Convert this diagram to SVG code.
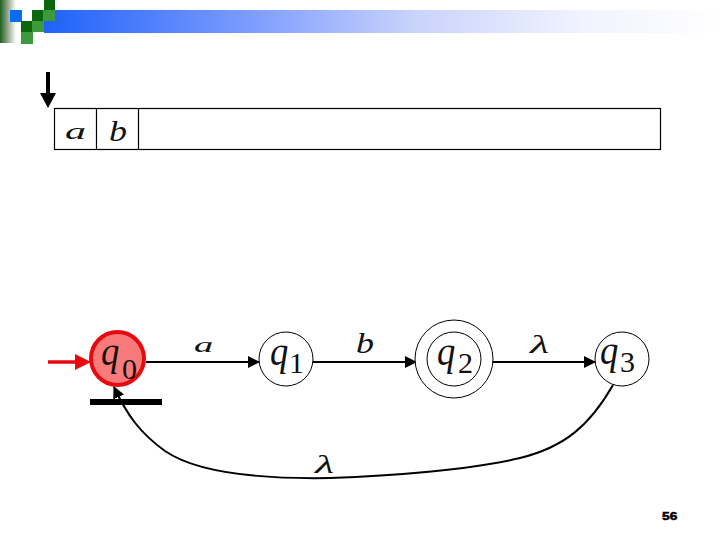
<svg xmlns="http://www.w3.org/2000/svg" width="720" height="540" viewBox="0 0 720 540">
<style>
.state{fill:#fff;stroke:#000;stroke-width:1}
.edge{fill:none;stroke:#000;stroke-width:2}
.q{font-family:"Liberation Serif",serif;font-style:italic;font-size:43px;fill:#111}
.sub{font-family:"Liberation Serif",serif;font-size:30px;fill:#111}
.lbl{font-family:"Liberation Serif",serif;font-style:italic;fill:#111}
.cell{fill:#fff;stroke:#000;stroke-width:1.2}
</style>
<defs>
<linearGradient id="bar" x1="0" x2="1" y1="0" y2="0"><stop offset="0" stop-color="#1e62f8"/><stop offset="0.3" stop-color="#7c9bff"/><stop offset="0.55" stop-color="#c9d3fb"/><stop offset="0.8" stop-color="#f1f3fe"/><stop offset="1" stop-color="#fff"/></linearGradient>
<linearGradient id="side" x1="0" x2="1" y1="0" y2="0"><stop offset="0" stop-color="#1f5f1f"/><stop offset="0.4" stop-color="#7f9a7a"/><stop offset="1" stop-color="#fff"/></linearGradient>
<marker id="ah" markerUnits="userSpaceOnUse" markerWidth="12" markerHeight="12" refX="11" refY="6" orient="auto"><path d="M0 0L12 6L0 12z" fill="#000"/></marker>
</defs>
<g id="header">
<rect x="44" y="10" width="676" height="23" fill="url(#bar)"/>
<rect x="0" y="0" width="16" height="43" fill="url(#side)"/>
<rect x="10" y="10" width="12" height="12" fill="#0a6cf0"/>
<rect x="44" y="0" width="11" height="10" fill="#0b670b"/>
<rect x="32" y="10" width="11" height="11" fill="#0b670b"/>
<rect x="43" y="10" width="12" height="11" fill="#3c9a3c"/>
<rect x="21" y="21" width="11" height="11" fill="#0b670b"/>
<rect x="32" y="21" width="12" height="11" fill="#3c9a3c"/>
<rect x="21" y="32" width="12" height="12" fill="#3c9a3c"/>
</g>
<g id="tape">
<rect class="cell" x="54.500" y="108.500" width="606" height="41"/>
<path d="M96.500 108.500V149.500M138.500 108.500V149.500" stroke="#000" stroke-width="1.200" fill="none"/>
<text class="lbl" font-size="24" transform="translate(65 139) scale(1.750 1)">a</text>
<text class="lbl" font-size="30" transform="translate(109 141) scale(1.200 1)">b</text>
</g>
<g id="head">
<rect x="46" y="72" width="4" height="24" fill="#000"/>
<path d="M40 93H56L48 108z" fill="#000"/>
</g>
<g id="connectors">
<path d="M146 362H259" class="edge" marker-end="url(#ah)"/>
<path d="M313 362H416" class="edge" marker-end="url(#ah)"/>
<path d="M493 362H595" class="edge" marker-end="url(#ah)"/>
<path d="M613 385C590 425 565 447 520 458C470 470 390 476 330 478C270 479 200 475 165 451C140 433 127 415 114 387" class="edge" marker-end="url(#ah)"/>
<path d="M48 362H80" fill="none" stroke="#e8090f" stroke-width="3.500"/>
<path d="M75 354L91 362L75 370z" fill="#e8090f"/>
<rect x="90" y="399" width="72" height="6" fill="#000"/>
</g>
<g id="q0"><circle cx="117.500" cy="358.500" r="26.500" fill="#f97a7a" stroke="#e8090f" stroke-width="4"/><text transform="translate(101 365) scale(0.850 1)" class="q">q</text><text x="122" y="379" class="sub">0</text></g>
<g id="q1"><circle class="state" cx="286" cy="359" r="27"/><text transform="translate(270 365) scale(0.850 1)" class="q">q</text><text x="289" y="373" class="sub">1</text></g>
<g id="q2"><circle class="state" cx="454" cy="359" r="39"/><circle class="state" cx="454" cy="359" r="27"/><text transform="translate(437 365) scale(0.850 1)" class="q">q</text><text x="458" y="373" class="sub">2</text></g>
<g id="q3"><circle class="state" cx="622" cy="359" r="27"/><text transform="translate(600 364) scale(0.850 1)" class="q">q</text><text x="620" y="372" class="sub">3</text></g>
<g id="labels">
<text class="lbl" font-size="22" transform="translate(194 352) scale(1.750 1)">a</text>
<text class="lbl" font-size="30" transform="translate(356 353) scale(1.200 1)">b</text>
<text class="lbl" font-size="26" transform="translate(530 353) scale(1.700 1)">λ</text>
<text class="lbl" font-size="26" transform="translate(315 473) scale(1.700 1)">λ</text>
</g>
<text transform="translate(662 520) scale(1.250 1)" font-family="Liberation Sans,sans-serif" font-size="11" font-weight="bold" stroke="#000" stroke-width="0.500" fill="#000">56</text>
</svg>
